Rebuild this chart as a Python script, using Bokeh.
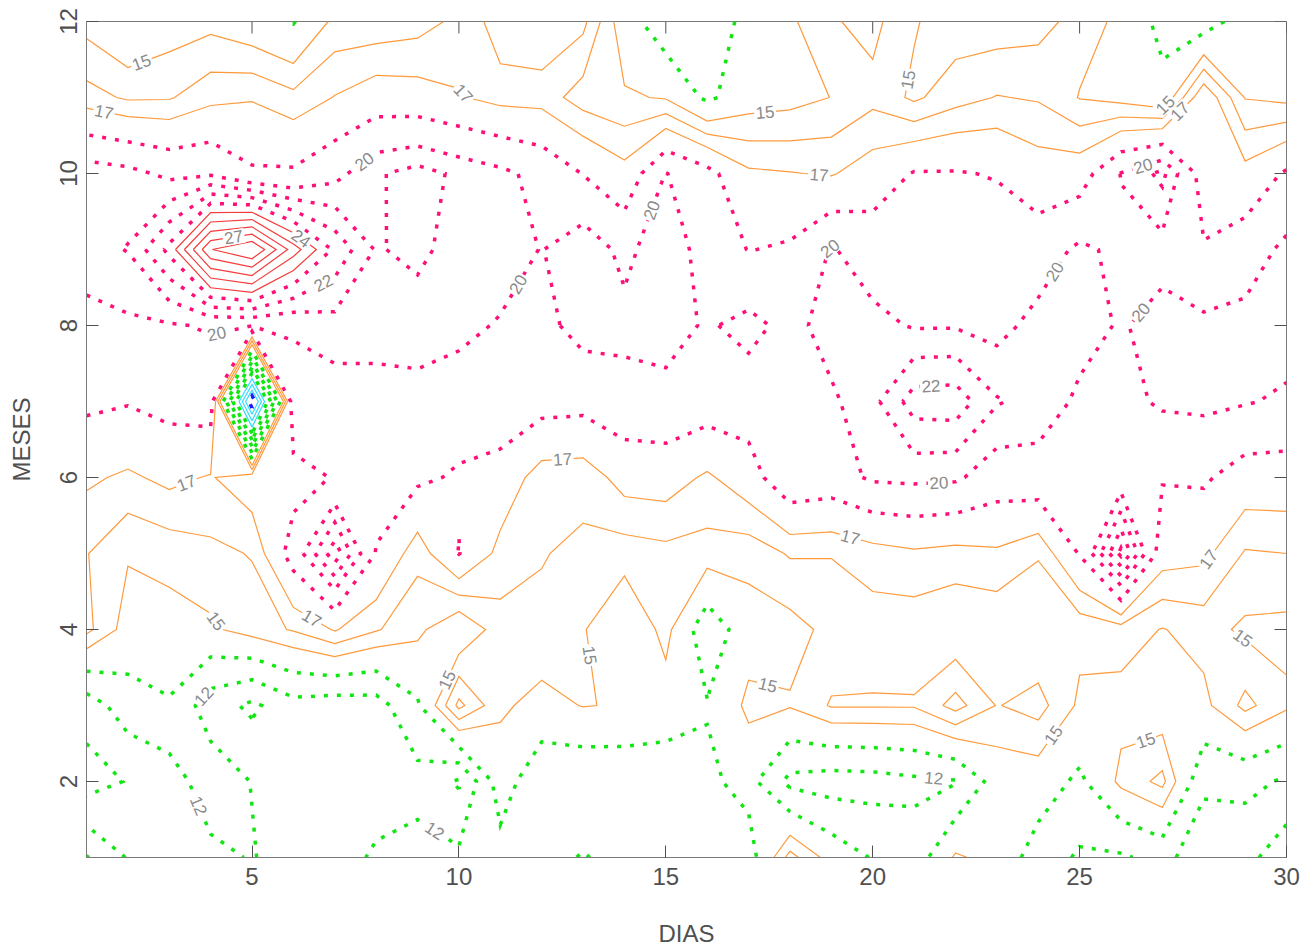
import math
import numpy as np
import contourpy
from bokeh.plotting import figure
from bokeh.models import Range1d, FixedTicker
from bokeh.embed import file_html
from bokeh.resources import INLINE
from bokeh.core.properties import value

dias = list(range(1, 31))
meses = list(range(1, 13))

# one row per month, day 1 .. day 30
mes01 = [13.6, 11.9, 11.5, 11.6, 12.1, 11.2, 11.4, 12.2, 12.5, 12.3, 12.9, 13.0, 13.6, 13.0, 13.0, 13.0, 12.8, 16.4, 14.5, 13.4, 12.6, 15.2, 14.5, 12.8, 11.8, 11.8, 12.5, 11.0, 11.0, 9.5]
mes02 = [9.8, 10.6, 11.2, 12.9, 11.95, 11.3, 11.4, 11.3, 11.5, 10.3, 14.3, 12.3, 12.2, 12.3, 12.5, 13.2, 14.0, 11.6, 11.3, 11.4, 11.7, 11.9, 14.2, 14.3, 13.2, 15.3, 16.3, 12.3, 12.4, 11.8]
mes03 = [11.2, 12.8, 13.36, 11.2, 10.2, 11.5, 11.2, 11.35, 13.3, 17.3, 15.2, 14.6, 15.05, 14.9, 14.4, 13.6, 15.3, 15.1, 16.1, 16.1, 16.1, 17.4, 15.95, 16.4, 14.8, 14.6, 14.2, 14.7, 16.3, 15.2]
mes04 = [16.3, 14.5, 14.5, 14.8, 15.5, 16.1, 17.1, 16.1, 15.3, 13.9, 15.6, 15.8, 15.1, 13.8, 15.4, 12.5, 14.4, 14.6, 15.3, 15.5, 15.4, 15.1, 15.2, 15.05, 15.3, 15.5, 14.95, 15.4, 14.8, 14.7]
mes05 = [16.05, 15.1, 15.4, 15.75, 16.06, 19.2, 22.67, 18.4, 16.3, 18.55, 16.6, 16.05, 15.8, 15.5, 15.7, 15.6, 15.4, 16.1, 16.05, 16.5, 16.8, 16.6, 16.8, 16.1, 18.6, 23.3, 17.6, 17.3, 15.9, 16.0]
mes06 = [17.2, 16.8, 17.3, 16.9, 17.8, 17.9, 18.6, 19.2, 18.8, 18.3, 17.9, 16.4, 16.3, 17.5, 17.6, 16.8, 17.8, 19.7, 19.4, 20.2, 20.3, 20.2, 19.3, 19.5, 19.3, 19.2, 18.6, 18.7, 17.8, 17.8]
mes07 = [18.8, 18.6, 19.0, 19.3, 0.0, 19.8, 19.4, 19.6, 19.7, 19.4, 19.5, 19.1, 19.0, 19.5, 19.6, 19.3, 19.3, 19.4, 19.8, 20.7, 22.5, 22.6, 21.1, 20.6, 19.8, 19.6, 20.2, 20.3, 20.1, 19.8]
mes08 = [19.6, 19.8, 19.9, 20.1, 20.05, 20.05, 20.6, 20.4, 20.4, 20.3, 19.9, 19.6, 20.5, 20.35, 20.5, 19.85, 20.4, 19.6, 20.5, 20.3, 19.9, 19.9, 19.6, 20.4, 20.4, 19.9, 20.4, 20.3, 20.4, 20.6]
mes09 = [20.6, 21.05, 23.3, 27.95, 29.1, 25.5, 22.8, 20.9, 21.3, 20.5, 20.6, 19.95, 20.8, 19.65, 20.8, 19.4, 18.45, 18.7, 20.1, 19.4, 19.5, 19.5, 19.4, 19.3, 20.25, 19.7, 19.6, 18.6, 19.3, 20.3]
mes10 = [20.7, 20.4, 19.7, 19.8, 18.7, 18.7, 19.6, 20.87, 21.4, 20.8, 20.3, 19.6, 18.45, 17.4, 20.05, 19.0, 17.2, 17.05, 16.9, 17.6, 18.6, 18.6, 18.4, 17.6, 17.75, 20.05, 21.3, 17.8, 17.4, 18.7]
mes11 = [16.4, 15.85, 15.9, 16.67, 16.9, 16.3, 17.05, 17.7, 17.53, 17.1, 16.6, 16.55, 15.5, 15.15, 14.9, 13.2, 14.4, 14.6, 15.02, 15.7, 14.8, 15.6, 16.05, 15.9, 14.95, 14.6, 14.0, 17.95, 14.95, 14.7]
mes12 = [14.6, 13.7, 14.4, 14.66, 14.1, 13.4, 15.3, 15.3, 15.57, 16.25, 17.5, 17.8, 17.3, 14.2, 12.5, 12.5, 14.0, 14.8, 15.9, 16.3, 15.1, 14.4, 14.4, 14.6, 15.4, 14.8, 13.0, 12.7, 14.3, 14.0]

campo = np.array([mes01, mes02, mes03, mes04, mes05, mes06,
                  mes07, mes08, mes09, mes10, mes11, mes12], dtype=float)

# contour levels, grouped by the colour / style of each band
niveles_azul = [1.5]
niveles_cian = [3.0, 4.5, 6.0]
niveles_verde = [7.5, 9.0, 10.5, 12.0, 13.5]
niveles_naranja = [15.0, 16.0, 17.0]
niveles_magenta = [18.5, 20.0, 21.0, 22.0, 23.0]
niveles_rojo = [24.0, 25.0, 26.0, 27.0, 28.0]

# labelled contours: (level, approximate day, approximate month)
etiquetas = [
    (15, 2.3, 11.5), (17, 1.4, 10.75), (17, 9.9, 10.95), (20, 7.45, 10.35),
    (27, 4.55, 9.18), (24, 6.07, 9.06), (22, 6.46, 8.84), (20, 4.1, 8.0),
    (17, 3.4, 5.95), (15, 4.2, 4.14), (17, 6.5, 4.2), (12, 3.9, 3.09),
    (12, 3.7, 1.68), (12, 9.4, 1.34), (15, 9.5, 3.39), (20, 11.5, 8.52),
    (20, 14.65, 9.52), (17, 12.5, 6.29), (15, 13.4, 3.68), (15, 17.4, 3.13),
    (15, 17.4, 10.79), (17, 18.7, 9.95), (20, 18.9, 9.06), (15, 20.9, 11.23),
    (15, 26.96, 10.96), (17, 27.4, 10.83), (20, 26.5, 10.15), (20, 24.25, 8.76),
    (20, 26.7, 8.07), (22, 21.4, 7.29), (20, 21.6, 5.91), (17, 19.5, 5.3),
    (17, 28.2, 4.89), (15, 29.0, 3.93), (15, 26.4, 2.85), (15, 24.5, 2.56),
    (12, 21.5, 2.2),
]

W, H = 1316, 949
LEFT, RIGHT, TOP, BOTTOM = 86, 30, 21, 90
FW, FH = W - LEFT - RIGHT, H - TOP - BOTTOM
PX_DIA = FW / (dias[-1] - dias[0])
PX_MES = FH / (meses[-1] - meses[0])
TICK = 12
GRIS = "#7a7a7a"
TEXTO = "#505050"
FUENTE = "Liberation Sans"

p = figure(width=W, height=H, x_range=Range1d(dias[0], dias[-1]), y_range=Range1d(meses[0], meses[-1]),
           output_backend="svg", toolbar_location=None,
           min_border_left=LEFT, min_border_right=RIGHT, min_border_top=TOP, min_border_bottom=BOTTOM)
p.xgrid.visible = False
p.ygrid.visible = False
p.outline_line_color = GRIS
p.background_fill_color = "white"
p.border_fill_color = "white"

gen = contourpy.contour_generator(x=np.array(dias, float), y=np.array(meses, float), z=campo,
                                  line_type="Separate")
lineas = {}


def dibujar(niveles, color, dash, ancho):
    xs, ys = [], []
    for lv in niveles:
        segs = gen.lines(lv)
        lineas[lv] = segs
        for s in segs:
            xs.append(s[:, 0].tolist())
            ys.append(s[:, 1].tolist())
    if xs:
        p.multi_line(xs, ys, line_color=color, line_dash=dash, line_width=ancho,
                     line_cap="butt", line_join="miter")


punteado = "4 9"
dibujar(niveles_naranja, "#ff9a3c", "solid", 1.2)
dibujar(niveles_rojo, "#f53c3c", "solid", 1.2)
dibujar(niveles_cian, "#33dcff", "solid", 1.2)
dibujar(niveles_verde, "#12e612", punteado, 3.5)
dibujar(niveles_magenta, "#ff0f78", punteado, 3.5)
dibujar(niveles_azul, "#1a1aff", punteado, 3.5)

# contour labels: nearest point of the labelled level, rotated along the line
lx, ly, lt, la = [], [], [], []
for lv, d0, m0 in etiquetas:
    q = np.array([(d0 - dias[0]) * PX_DIA, (m0 - meses[0]) * PX_MES])
    mejor = None
    for s in lineas.get(float(lv), []):
        P = np.column_stack([(s[:, 0] - dias[0]) * PX_DIA, (s[:, 1] - meses[0]) * PX_MES])
        A, B = P[:-1], P[1:]
        AB = B - A
        L2 = (AB ** 2).sum(1)
        t = np.clip(((q - A) * AB).sum(1) / np.where(L2 == 0, 1, L2), 0, 1)
        C = A + AB * t[:, None]
        dist = ((C - q) ** 2).sum(1)
        i = int(np.argmin(dist))
        if mejor is None or dist[i] < mejor[0]:
            mejor = (dist[i], C[i], AB[i])
    if mejor is None:
        continue
    _, c, ab = mejor
    ang = math.atan2(ab[1], ab[0])
    if ang > math.pi / 2:
        ang -= math.pi
    elif ang < -math.pi / 2:
        ang += math.pi
    lx.append(float(c[0] / PX_DIA + dias[0]))
    ly.append(float(c[1] / PX_MES + meses[0]))
    lt.append(str(lv))
    la.append(ang)

p.rect(lx, ly, width=22, height=15, angle=la, width_units="screen", height_units="screen",
       fill_color="white", line_color=None)
p.text(lx, ly, text=lt, angle=la, text_font=value(FUENTE), text_font_size="17px",
       text_color="#8a8a8a", text_align="center", text_baseline="middle")

tick_x = [5, 10, 15, 20, 25, 30]
tick_y = [2, 4, 6, 8, 10, 12]

for ax in (p.xaxis[0], p.yaxis[0]):
    ax.major_tick_in = TICK
    ax.major_tick_out = 0
    ax.minor_tick_in = 0
    ax.minor_tick_out = 0
    ax.axis_line_color = GRIS
    ax.major_tick_line_color = "#505050"
    ax.major_label_text_font = FUENTE
    ax.major_label_text_font_size = "24px"
    ax.major_label_text_color = TEXTO
    ax.axis_label_text_font = FUENTE
    ax.axis_label_text_font_size = "24px"
    ax.axis_label_text_font_style = "normal"
    ax.axis_label_text_color = TEXTO

p.xaxis[0].ticker = FixedTicker(ticks=tick_x)
p.yaxis[0].ticker = FixedTicker(ticks=tick_y)
p.xaxis[0].axis_label = "DIAS"
p.yaxis[0].axis_label = "MESES"
p.xaxis[0].major_label_standoff = 10
p.xaxis[0].axis_label_standoff = 32
p.yaxis[0].major_label_standoff = 10
p.yaxis[0].axis_label_standoff = 22
p.yaxis[0].major_label_orientation = "vertical"

# inward ticks along the top and right edges of the frame
p.segment(x0=tick_x, y0=[meses[-1]] * len(tick_x), x1=tick_x,
          y1=[meses[-1] - TICK / PX_MES] * len(tick_x), line_color="#505050", line_width=1)
p.segment(x0=[dias[-1]] * len(tick_y), y0=tick_y, x1=[dias[-1] - TICK / PX_DIA] * len(tick_y),
          y1=tick_y, line_color="#505050", line_width=1)

open("out.html", "w").write(file_html(p, INLINE))
